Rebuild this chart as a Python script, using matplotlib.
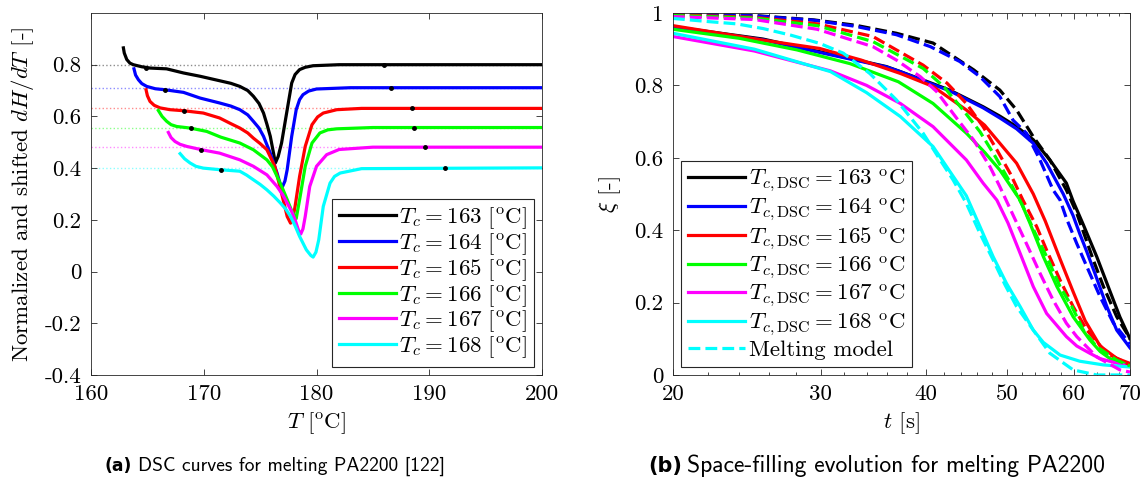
import matplotlib
matplotlib.use("Agg")
import matplotlib.pyplot as plt
from matplotlib.ticker import FixedLocator, FuncFormatter, NullFormatter

# ---- data: (a) DSC curves, normalized and shifted ----
tc = [163, 164, 165, 166, 167, 168]
colors = [(0, 0, 0), (0, 0, 1), (1, 0, 0), (0, 1, 0), (1, 0, 1), (0, 1, 1)]

T_163 = [162.87, 162.95, 163.17, 163.45, 163.75, 164.5, 165.23, 166.7, 168.2, 169.7, 171.4,
         172.4, 173.2, 173.9, 174.4, 174.9, 175.3, 175.6, 175.9, 176.2, 176.35, 176.6, 176.9,
         177.4, 177.8, 178.1, 178.5, 179.0, 179.7, 182, 200]
H_163 = [0.865, 0.845, 0.820, 0.806, 0.800, 0.792, 0.787, 0.784, 0.768, 0.755, 0.738,
         0.728, 0.716, 0.700, 0.678, 0.650, 0.613, 0.570, 0.523, 0.455, 0.42, 0.445, 0.497,
         0.626, 0.729, 0.762, 0.781, 0.790, 0.796, 0.8, 0.8]
T_164 = [163.81, 163.95, 164.2, 164.5, 164.94, 165.7, 166.56, 168.2, 169.67, 171.4, 172.4,
         173.2, 173.9, 174.4, 174.9, 175.3, 175.9, 176.5, 176.9, 177.2, 177.4, 177.8, 178.2,
         178.5, 178.8, 179.3, 180.0, 183, 200]
H_164 = [0.784, 0.760, 0.742, 0.727, 0.716, 0.707, 0.703, 0.693, 0.671, 0.652, 0.640,
         0.626, 0.606, 0.581, 0.555, 0.523, 0.458, 0.381, 0.32, 0.35, 0.394, 0.523, 0.626,
         0.665, 0.684, 0.698, 0.706, 0.711, 0.711]
T_165 = [164.88, 165.0, 165.23, 165.6, 166.12, 167.0, 168.2, 169.96, 171.4, 172.4, 173.2,
         173.9, 174.4, 175.0, 175.6, 176.3, 176.9, 177.4, 177.7, 177.9, 178.1, 178.5, 179.0,
         179.6, 180.1, 180.6, 181.8, 184, 200]
H_165 = [0.703, 0.680, 0.658, 0.643, 0.633, 0.626, 0.622, 0.613, 0.594, 0.572, 0.555,
         0.536, 0.516, 0.495, 0.471, 0.407, 0.303, 0.213, 0.187, 0.205, 0.252, 0.368, 0.484,
         0.568, 0.598, 0.613, 0.626, 0.631, 0.631]
T_166 = [165.97, 166.3, 166.71, 167.1, 167.6, 168.78, 170.26, 171.5, 173.2, 174.4, 175.6,
         176.1, 176.5, 177.0, 177.4, 177.8, 178.2, 178.5, 179.0, 179.6, 180.3, 181.0, 181.8,
         185, 200]
H_166 = [0.623, 0.600, 0.581, 0.568, 0.561, 0.555, 0.542, 0.52, 0.497, 0.471, 0.432,
         0.405, 0.368, 0.320, 0.278, 0.235, 0.205, 0.278, 0.407, 0.497, 0.536, 0.548, 0.552,
         0.557, 0.557]
T_167 = [166.86, 167.1, 167.45, 167.9, 168.49, 169.82, 171.4, 173.2, 174.4, 175.6, 176.5,
         177.0, 177.4, 177.8, 178.1, 178.4, 178.6, 178.8, 179.0, 179.4, 180.0, 180.9, 182,
         185, 200]
H_167 = [0.538, 0.518, 0.503, 0.492, 0.484, 0.471, 0.458, 0.432, 0.407, 0.374, 0.329,
         0.297, 0.265, 0.232, 0.200, 0.160, 0.145, 0.165, 0.213, 0.329, 0.407, 0.452, 0.472,
         0.481, 0.481]
T_168 = [167.9, 168.3, 168.78, 169.3, 169.96, 171.4, 173.2, 173.8, 174.4, 175.0, 175.6,
         176.2, 176.8, 177.3, 177.7, 178.1, 178.5, 179.1, 179.5, 179.7, 179.95, 180.2, 180.6,
         181.2, 181.6, 182.1, 184, 200]
H_168 = [0.456, 0.436, 0.420, 0.407, 0.400, 0.394, 0.388, 0.373, 0.355, 0.337, 0.316,
         0.292, 0.265, 0.240, 0.213, 0.177, 0.136, 0.084, 0.062, 0.056, 0.075, 0.123, 0.252,
         0.342, 0.368, 0.381, 0.398, 0.401]

dsc_T = [T_163, T_164, T_165, T_166, T_167, T_168]
dsc_H = [H_163, H_164, H_165, H_166, H_167, H_168]
baseline = [0.797, 0.711, 0.631, 0.557, 0.481, 0.401]
dot_T = [[164.9, 186.0], [166.56, 186.6], [168.25, 188.44], [168.84, 188.68],
         [169.76, 189.62], [171.53, 191.43]]
dot_H = [[0.789, 0.8], [0.703, 0.711], [0.622, 0.631], [0.555, 0.557],
         [0.471, 0.481], [0.394, 0.401]]

# ---- data: (b) space-filling evolution ----
t_163 = [20, 25.6, 29.9, 35.9, 37.3, 40, 42.7, 46.8, 49, 51.3, 53.7, 56.2, 58.8, 59.9, 61.6,
         63.9, 66.3, 68.1, 70]
x_163 = [0.962, 0.928, 0.893, 0.852, 0.838, 0.812, 0.787, 0.741, 0.715, 0.686, 0.65, 0.594,
         0.53, 0.48, 0.415, 0.327, 0.23, 0.16, 0.10]
t_164 = [20, 25.6, 29.9, 35.9, 37.3, 40, 42.7, 46.8, 49, 51.3, 53.7, 55.7, 58.3, 59.9, 61.0,
         62.2, 63.6, 65.7, 67.5, 70]
x_164 = [0.960, 0.926, 0.891, 0.851, 0.838, 0.81, 0.785, 0.738, 0.71, 0.68, 0.64, 0.585,
         0.50, 0.44, 0.39, 0.34, 0.28, 0.189, 0.124, 0.075]
t_165 = [20, 25.6, 29.9, 33.5, 37.3, 40.8, 44.7, 47, 49.0, 51.3, 53.7, 55.5, 57.8, 59.9, 61.9,
         64.5, 67.5, 70]
x_165 = [0.965, 0.925, 0.902, 0.87, 0.833, 0.797, 0.732, 0.69, 0.64, 0.585, 0.50, 0.425,
         0.32, 0.23, 0.15, 0.08, 0.046, 0.032]
t_166 = [20, 24, 28.1, 32.5, 37.1, 40.8, 44.7, 47, 49.0, 51.8, 53.2, 55.2, 57.3, 59.9, 62.7,
         64.5, 66.3, 70]
x_166 = [0.955, 0.93, 0.898, 0.86, 0.81, 0.750, 0.668, 0.615, 0.566, 0.483, 0.42, 0.327,
         0.244, 0.161, 0.097, 0.065, 0.045, 0.026]
t_167 = [20, 25, 30.8, 34, 37.3, 40.8, 44.7, 46.8, 48.6, 50.1, 51.8, 53.7, 55.7, 58.8, 60.5,
         62.7, 64.5, 70]
x_167 = [0.935, 0.895, 0.840, 0.80, 0.750, 0.686, 0.594, 0.53, 0.483, 0.42, 0.336, 0.244,
         0.17, 0.106, 0.08, 0.06, 0.045, 0.023]
t_168 = [20, 25, 30.8, 34, 37.3, 40.8, 44.7, 46.4, 48.1, 49.9, 51.8, 53.7, 55.2, 57.8, 61.0,
         65, 70]
x_168 = [0.944, 0.90, 0.838, 0.78, 0.714, 0.631, 0.495, 0.410, 0.327, 0.253, 0.189, 0.124,
         0.09, 0.055, 0.038, 0.028, 0.022]

tm_163 = [20, 25, 29.4, 33, 36.9, 40.8, 45.6, 49.0, 51.3, 53.7, 56.2, 58.8, 60.5, 63.3, 65.1,
          67.5, 69.4, 70]
xm_163 = [0.998, 0.993, 0.981, 0.966, 0.944, 0.917, 0.843, 0.787, 0.732, 0.658, 0.594, 0.511,
          0.447, 0.318, 0.244, 0.161, 0.115, 0.10]
tm_164 = [20, 25, 29.4, 33, 36.9, 40.5, 43.9, 46.4, 49.0, 50.8, 52.7, 54.7, 56.7, 57.8, 58.8,
          60.5, 62.2, 64.5, 66.9, 69.4, 70]
xm_164 = [0.998, 0.992, 0.980, 0.963, 0.940, 0.907, 0.866, 0.824, 0.769, 0.704, 0.668, 0.594,
          0.511, 0.483, 0.433, 0.363, 0.299, 0.216, 0.143, 0.097, 0.085]
tm_165 = [20, 25, 29.7, 34.6, 36.9, 39.7, 42.4, 44.7, 46.8, 48.6, 50.4, 52.2, 54.2, 55.7, 57.8,
          59.9, 62.2, 65.7, 70]
xm_165 = [0.995, 0.988, 0.970, 0.935, 0.898, 0.856, 0.806, 0.750, 0.686, 0.622, 0.557, 0.483,
          0.410, 0.345, 0.262, 0.189, 0.124, 0.060, 0.028]
tm_166 = [20, 25, 29.7, 34.6, 39.7, 42.0, 44.3, 46.4, 48.4, 50.2, 52.1, 54.0, 55.7, 57.8, 59.7,
          61.6, 63.9, 67.5, 70]
xm_166 = [0.993, 0.986, 0.965, 0.921, 0.847, 0.797, 0.732, 0.672, 0.603, 0.539, 0.47, 0.391,
          0.327, 0.244, 0.189, 0.124, 0.078, 0.041, 0.025]
tm_167 = [20, 25, 29.7, 34.6, 36.9, 39.4, 41.2, 43.7, 45.6, 47.7, 49.0, 50.8, 52.7, 54.7, 56.7,
          58.8, 60.5, 63.9, 68.1, 70]
xm_167 = [0.99, 0.982, 0.955, 0.907, 0.870, 0.824, 0.783, 0.704, 0.649, 0.575, 0.520, 0.442,
          0.363, 0.281, 0.207, 0.143, 0.106, 0.050, 0.014, 0.008]
tm_168 = [20, 22.1, 23.8, 25.6, 27.6, 29.9, 31.9, 34.3, 36.9, 38.0, 39.7, 41.6, 43.1, 44.7, 46.4,
          48.1, 49.7, 51.3, 53.7, 56.2, 59.9, 63.9, 70]
xm_168 = [0.985, 0.976, 0.970, 0.957, 0.939, 0.916, 0.889, 0.833, 0.760, 0.723, 0.668, 0.594,
          0.539, 0.474, 0.391, 0.318, 0.249, 0.189, 0.124, 0.060, 0.014, 0.0, 0.0]

sf_t = [t_163, t_164, t_165, t_166, t_167, t_168]
sf_x = [x_163, x_164, x_165, x_166, x_167, x_168]
model_t = [tm_163, tm_164, tm_165, tm_166, tm_167, tm_168]
model_x = [xm_163, xm_164, xm_165, xm_166, xm_167, xm_168]

plt.rcParams.update({
    "font.family": "serif",
    "font.serif": ["cmr10"],
    "mathtext.fontset": "cm",
    "axes.formatter.use_mathtext": True,
    "font.size": 16.5,
})

EDGE = "0.15"
LW = 2.3


def style_axes(ax):
    for sp in ax.spines.values():
        sp.set_color(EDGE)
        sp.set_linewidth(0.6)
    ax.tick_params(which="both", direction="in", top=True, right=True,
                   color=EDGE, width=0.6, labelsize=16.5, pad=7)
    ax.tick_params(which="major", length=4)
    ax.tick_params(which="minor", length=2.5)


def num(v, _pos=None):
    if abs(v) < 1e-9:
        return "0"
    return f"{v:g}"


fig = plt.figure(figsize=(11.48, 4.88), dpi=100)
ax1 = fig.add_axes([0.0793, 0.2316, 0.3928, 0.7418])
ax2 = fig.add_axes([0.5862, 0.2316, 0.3981, 0.7418])

# (a)
for i in range(len(tc)):
    ax1.axhline(baseline[i], color=colors[i], ls=":", lw=1.0, alpha=0.45, zorder=1)
for i in range(len(tc)):
    ax1.plot(dsc_T[i], dsc_H[i], color=colors[i], lw=LW, zorder=2,
             label=rf"$T_c = {tc[i]}\ [^{{\mathrm{{o}}}}\mathrm{{C}}]$")
for i in range(len(tc)):
    ax1.plot(dot_T[i], dot_H[i], "k.", ms=5, zorder=3)

ax1.set_xlim(160, 200)
ax1.set_ylim(-0.4, 1.0)
ax1.xaxis.set_major_locator(FixedLocator([160, 170, 180, 190, 200]))
ax1.yaxis.set_major_locator(FixedLocator([-0.4, -0.2, 0, 0.2, 0.4, 0.6, 0.8]))
ax1.xaxis.set_major_formatter(FuncFormatter(num))
ax1.yaxis.set_major_formatter(FuncFormatter(num))
style_axes(ax1)
ax1.set_xlabel(r"$T\ [^{\mathrm{o}}\mathrm{C}]$", labelpad=4)
ax1.set_ylabel(r"Normalized and shifted $dH/dT$ [-]", labelpad=6)
leg1 = ax1.legend(loc="lower right", handlelength=2.5, handletextpad=0.15,
                  labelspacing=0.0, borderpad=0.3, borderaxespad=0.35,
                  fancybox=False, framealpha=1, edgecolor=EDGE)
leg1.get_frame().set_linewidth(0.8)

# (b)
handles = []
for i in range(len(tc)):
    h, = ax2.plot(sf_t[i], sf_x[i], color=colors[i], lw=LW,
                  label=rf"$T_{{c,\mathrm{{DSC}}}} = {tc[i]}\ ^{{\mathrm{{o}}}}\mathrm{{C}}$")
    handles.append(h)
for i in range(len(tc)):
    h, = ax2.plot(model_t[i], model_x[i], color=colors[i], lw=LW, ls="--")
h.set_label("Melting model")
handles.append(h)

ax2.set_xscale("log")
ax2.set_xlim(20, 70)
ax2.set_ylim(0, 1)
ax2.xaxis.set_major_locator(FixedLocator([20, 30, 40, 50, 60, 70]))
ax2.xaxis.set_minor_locator(FixedLocator([v for v in range(22, 70, 2) if v % 10]))
ax2.xaxis.set_major_formatter(FuncFormatter(num))
ax2.xaxis.set_minor_formatter(NullFormatter())
ax2.yaxis.set_major_locator(FixedLocator([0, 0.2, 0.4, 0.6, 0.8, 1.0]))
ax2.yaxis.set_major_formatter(FuncFormatter(num))
style_axes(ax2)
ax2.set_xlabel(r"$t$ [s]", labelpad=4)
ax2.set_ylabel(r"$\xi$ [-]", labelpad=8)
leg2 = ax2.legend(handles=handles, loc="lower left", handlelength=2.5, handletextpad=0.15,
                  labelspacing=0.1, borderpad=0.3, borderaxespad=0.35,
                  fancybox=False, framealpha=1, edgecolor=EDGE)
leg2.get_frame().set_linewidth(0.8)

# captions
cap_y = 1 - 466 / 488
for x0, tag, text, fs in [(105, "(a)", "DSC curves for melting PA2200 [122]", 14),
                          (648, "(b)", "Space-filling evolution for melting PA2200", 17)]:
    t1 = fig.text(x0 / 1148, cap_y, tag, family="DejaVu Sans", weight="bold",
                  fontsize=fs * 0.88, va="center", ha="left")
    ax1.annotate(text, xy=(1, 0.5), xycoords=t1, xytext=(4, 0), textcoords="offset points",
                 family="cmss10", fontsize=fs, va="center", ha="left", annotation_clip=False)

fig.savefig("out.png", dpi=100)
